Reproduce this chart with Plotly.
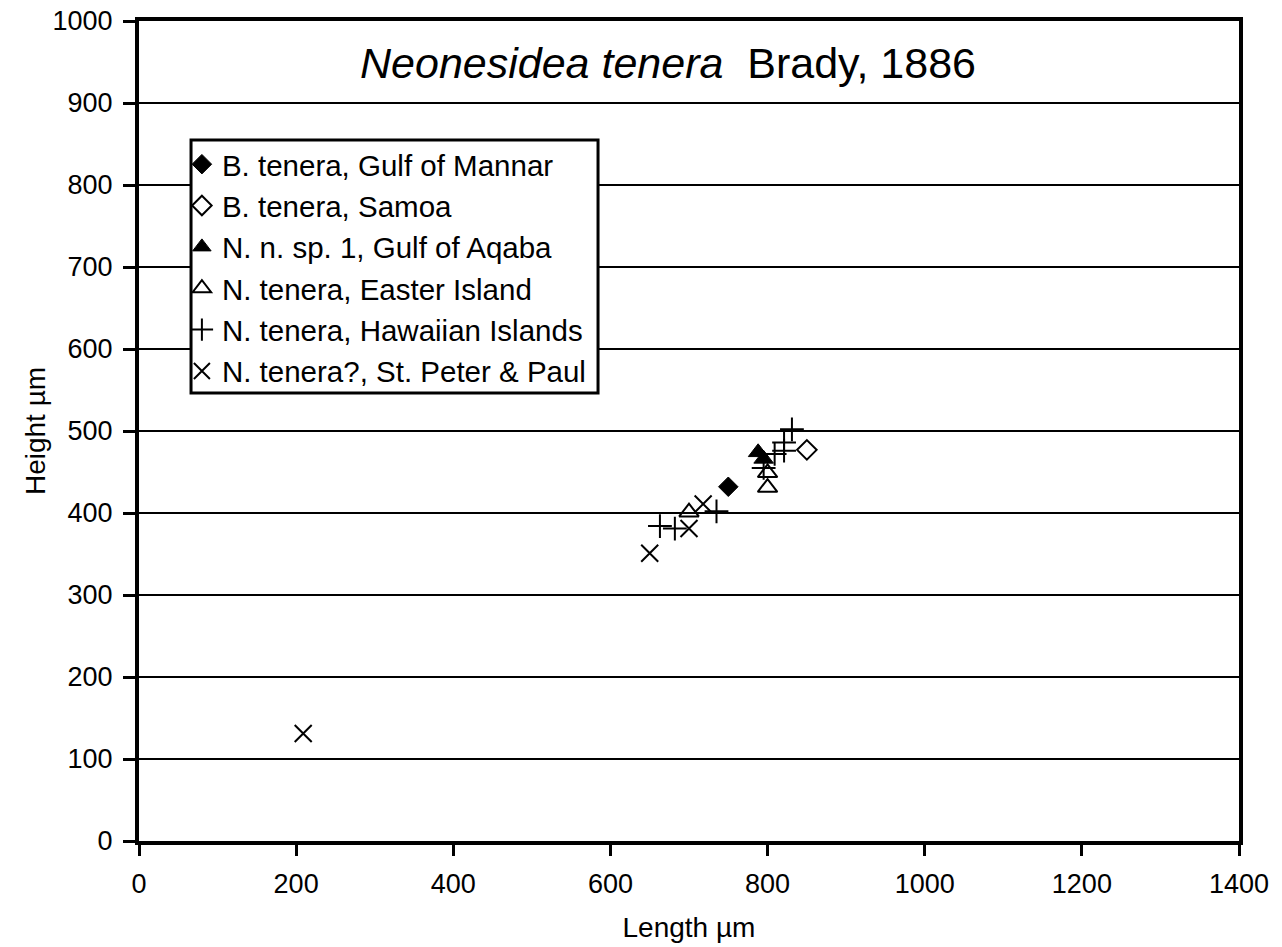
import plotly.graph_objects as go

# Data (Length µm, Height µm)
mannar_x = [750]
mannar_y = [432]
samoa_x = [850]
samoa_y = [477]
aqaba_x = [788, 795]
aqaba_y = [474, 466]
easter_x = [700, 800, 800]
easter_y = [401, 449, 431]
hawaii_x = [831, 821, 821, 809, 795, 735, 663, 682]
hawaii_y = [502, 486, 476, 472, 455, 402, 384, 381]
stpeter_x = [209, 650, 700, 718]
stpeter_y = [131, 351, 381, 411]

x_ticks = [0, 200, 400, 600, 800, 1000, 1200, 1400]
y_ticks = [0, 100, 200, 300, 400, 500, 600, 700, 800, 900, 1000]

FONT = "Liberation Sans, Arial, sans-serif"

fig = go.Figure()

series = [
    ("B. tenera, Gulf of Mannar", mannar_x, mannar_y, "diamond", 15, "black", 1),
    ("B. tenera, Samoa", samoa_x, samoa_y, "diamond-open", 15, "black", 2),
    ("N. n. sp. 1, Gulf of Aqaba", aqaba_x, aqaba_y, "triangle-up", 17, "black", 1),
    ("N. tenera, Easter Island", easter_x, easter_y, "triangle-up-open", 17, "black", 2),
    ("N. tenera, Hawaiian Islands", hawaii_x, hawaii_y, "cross-thin-open", 17, "black", 2),
    ("N. tenera?, St. Peter & Paul", stpeter_x, stpeter_y, "x-thin-open", 17, "black", 2),
]
for i, (name, xs, ys, sym, sz, col, lw) in enumerate(series):
    fig.add_trace(go.Scatter(
        x=xs, y=ys, mode="markers", name=name, legendgroup=f"g{i}",
        marker=dict(symbol=sym, size=sz, color=col, line=dict(color="black", width=lw)),
    ))

fig.add_annotation(
    x=0.481, y=0.949, xref="paper", yref="paper",
    text="<i>Neonesidea tenera</i>  Brady, 1886",
    showarrow=False, font=dict(family=FONT, size=43, color="black"),
    xanchor="center", yanchor="middle",
)

# legend frame
fig.add_shape(
    type="rect", xref="paper", yref="paper",
    x0=0.0473, x1=0.4173, y0=0.5463, y1=0.8549,
    line=dict(color="black", width=3), fillcolor="white", layer="above",
)

fig.update_layout(
    width=1282, height=947,
    margin=dict(l=139, r=43, t=21, b=106, autoexpand=False),
    paper_bgcolor="white", plot_bgcolor="white",
    font=dict(family=FONT, size=27, color="black"),
    showlegend=True,
    legend=dict(
        x=0.039, y=0.8567, xanchor="left", yanchor="top",
        bgcolor="rgba(0,0,0,0)", borderwidth=0,
        font=dict(family=FONT, size=29.5, color="black"),
        traceorder="grouped", tracegroupgap=0,
        itemwidth=30,
    ),
    xaxis=dict(
        range=[0, 1400], tickvals=x_ticks, ticktext=[str(v) for v in x_ticks],
        showgrid=False, zeroline=False,
        showline=True, linecolor="black", linewidth=4, mirror=True,
        ticks="outside", ticklen=11, tickwidth=3, tickcolor="black",
        ticklabelstandoff=5,
        title=dict(text="Length µm", font=dict(family=FONT, size=28), standoff=20),
        tickfont=dict(family=FONT, size=27),
    ),
    yaxis=dict(
        range=[0, 1000], tickvals=y_ticks, ticktext=[str(v) for v in y_ticks],
        showgrid=True, gridcolor="black", gridwidth=2, zeroline=False,
        showline=True, linecolor="black", linewidth=4, mirror=True,
        ticks="outside", ticklen=12, tickwidth=3, tickcolor="black",
        ticklabelstandoff=5, ticklabeloverflow="allow",
        title=dict(text="Height µm", font=dict(family=FONT, size=28), standoff=0),
        tickfont=dict(family=FONT, size=27),
    ),
)

fig.write_html("out.html", config={"displayModeBar": False},
               post_script="document.body.style.margin='0';")
